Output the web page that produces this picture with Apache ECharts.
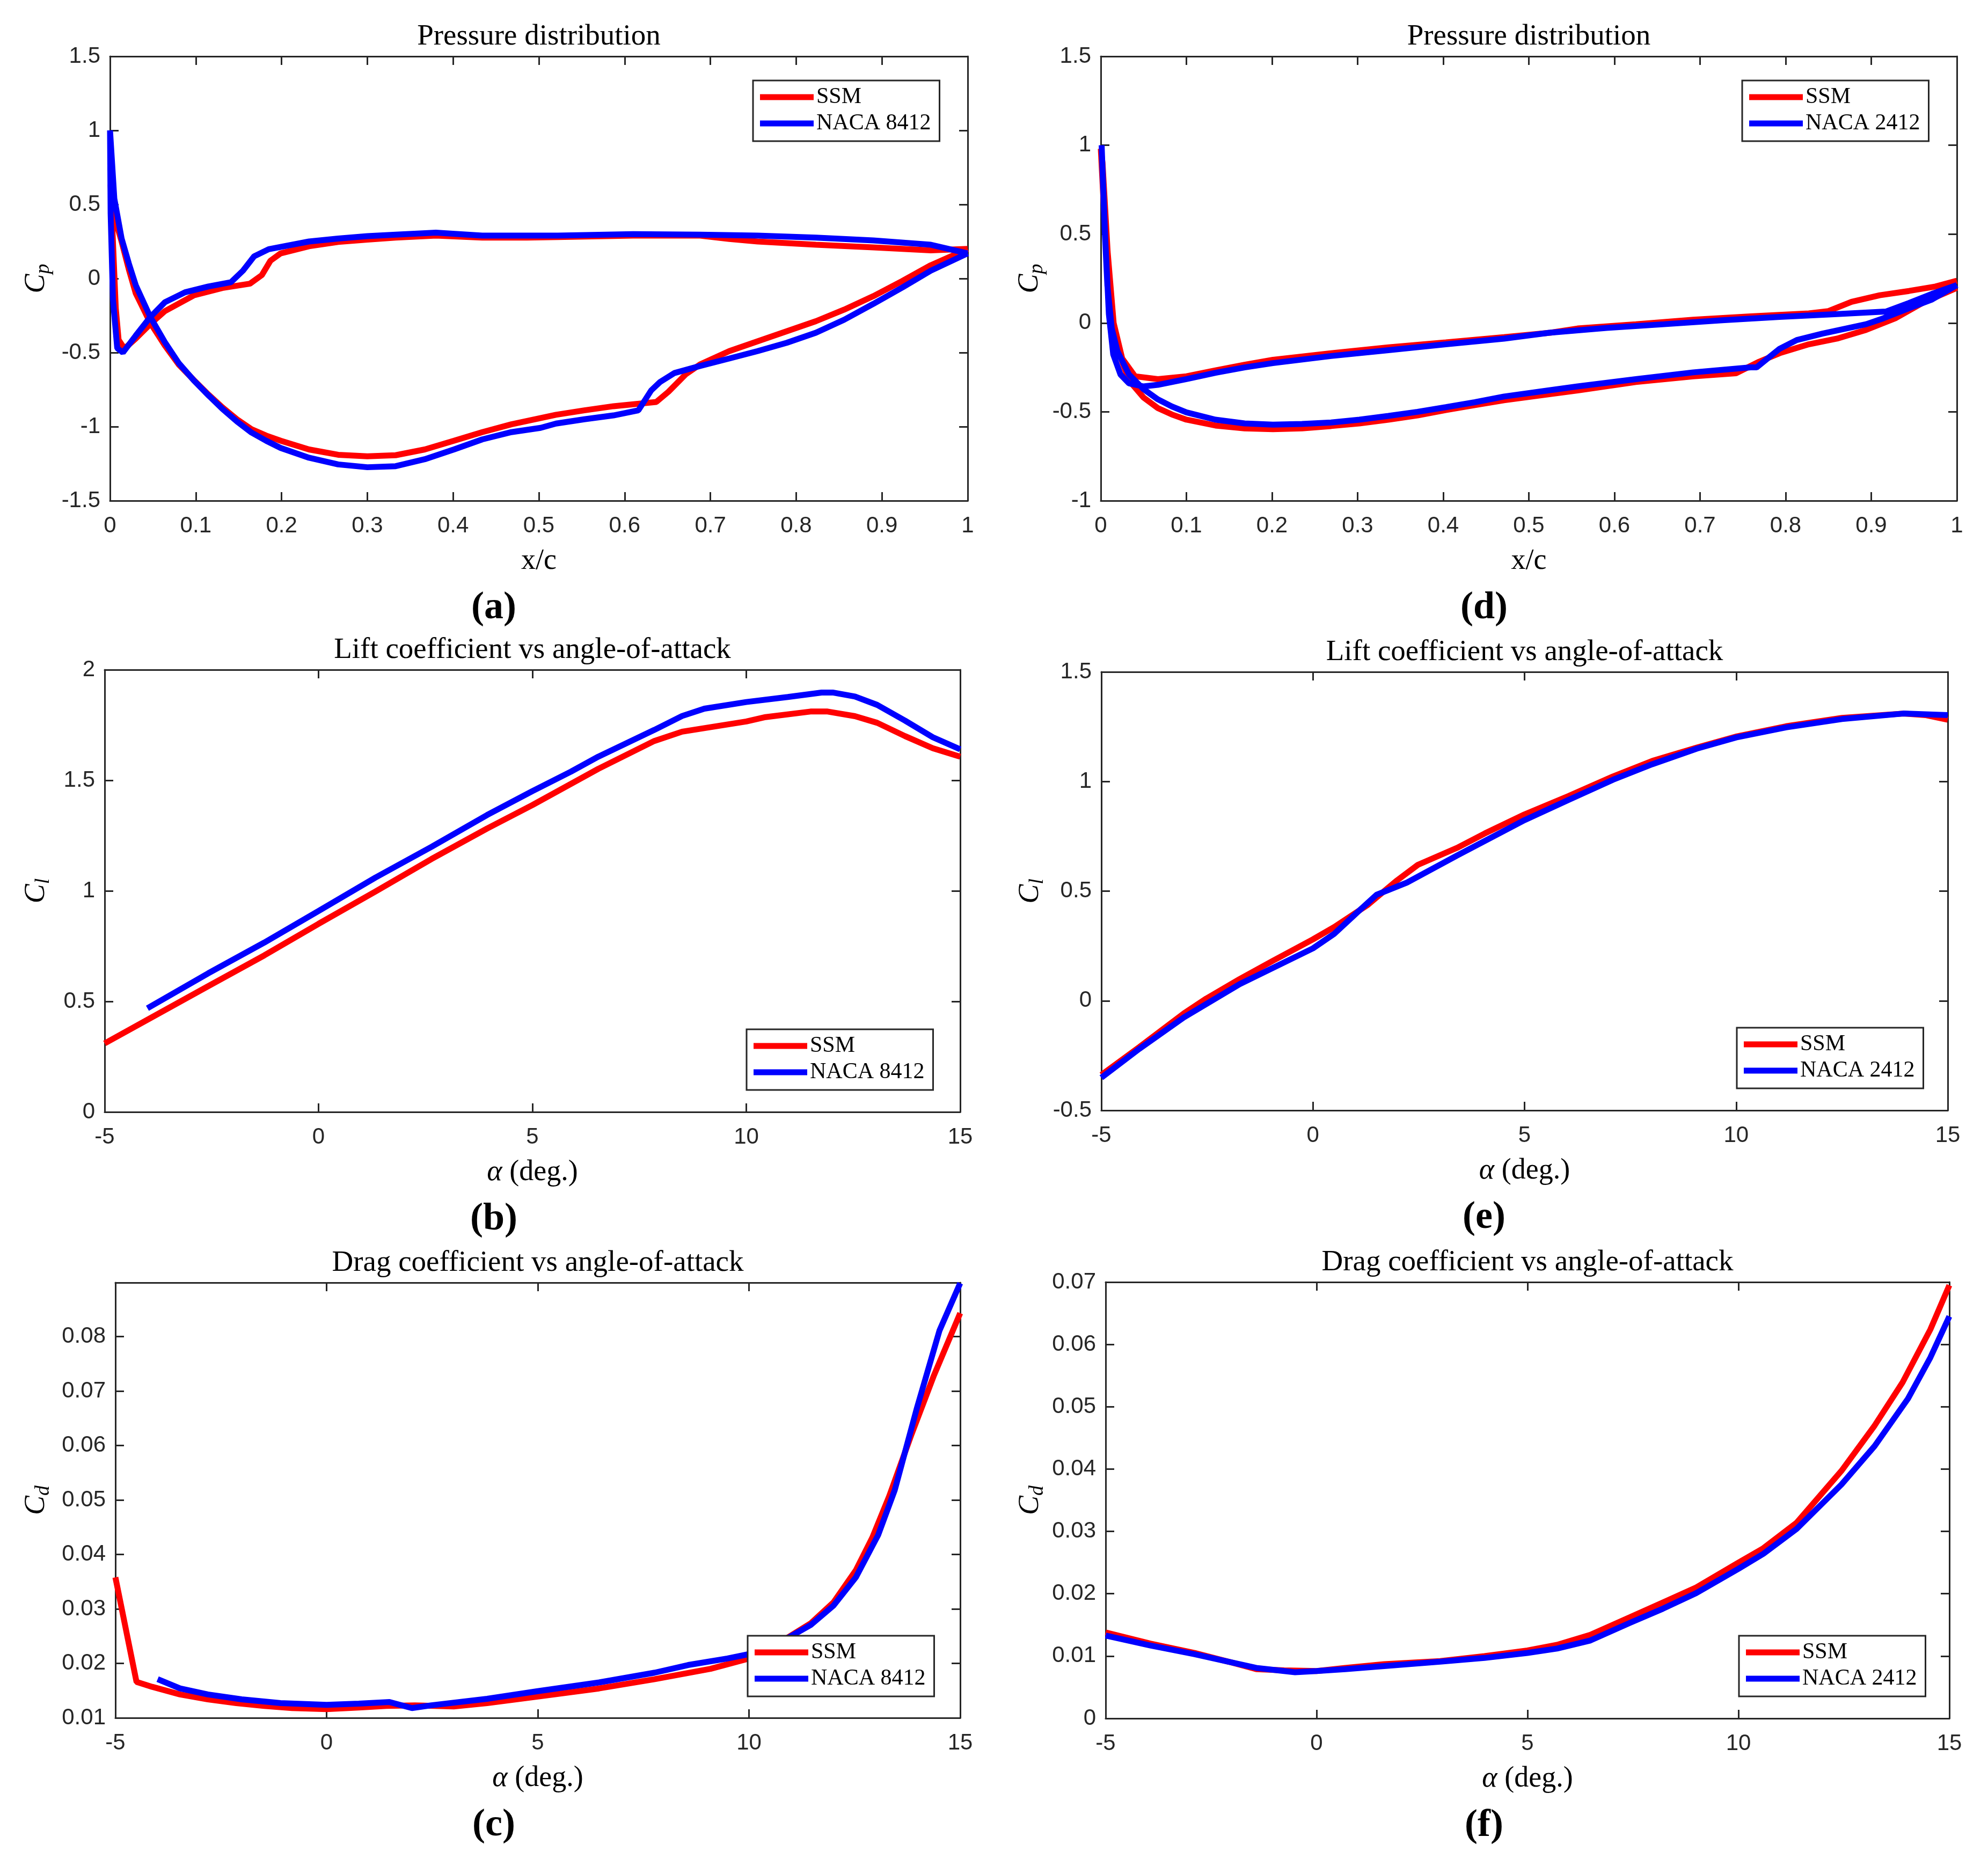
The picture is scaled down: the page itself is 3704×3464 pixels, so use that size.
<!DOCTYPE html>
<html>
<head>
<meta charset="utf-8">
<script src="https://cdn.jsdelivr.net/npm/echarts@6/dist/echarts.min.js"></script>
<style>
html,body{margin:0;padding:0;background:#fff;}
#chart{width:3704px;height:3464px;}
</style>
</head>
<body>
<div id="chart"></div>
<script>
// pressure distribution loops, [x/c, Cp], walked TE -> LE -> TE
var cpA_ssm = [[1.0,0.20],[0.957,0.19],[0.89,0.21],[0.823,0.228],[0.755,0.25],[0.722,0.267],[0.688,0.29],[0.61,0.29],[0.522,0.28],[0.486,0.276],[0.434,0.276],[0.38,0.29],[0.333,0.276],[0.3,0.263],[0.266,0.247],[0.232,0.218],[0.199,0.17],[0.187,0.12],[0.177,0.023],[0.163,-0.035],[0.131,-0.064],[0.098,-0.113],[0.064,-0.22],[0.047,-0.307],[0.030,-0.405],[0.0168,-0.473],[0.010,-0.414],[0.0067,-0.2],[0.0034,0.247],[0.0007,0.636],
  [0.005,0.42],[0.0135,0.25],[0.022,0.06],[0.030,-0.10],[0.047,-0.30],[0.064,-0.453],[0.08,-0.58],[0.098,-0.687],[0.115,-0.785],[0.131,-0.87],[0.148,-0.95],[0.165,-1.017],[0.182,-1.06],[0.199,-1.095],[0.232,-1.154],[0.266,-1.19],[0.3,-1.2],[0.333,-1.193],[0.367,-1.154],[0.401,-1.095],[0.434,-1.037],[0.468,-0.984],[0.52,-0.92],[0.553,-0.89],[0.587,-0.862],[0.637,-0.833],[0.651,-0.765],[0.671,-0.648],[0.688,-0.58],[0.722,-0.49],[0.755,-0.424],[0.789,-0.356],[0.823,-0.288],[0.856,-0.21],[0.89,-0.119],[0.924,-0.016],[0.957,0.09],[1.0,0.2]];
var cpA_naca = [[1.0,0.17],[0.957,0.228],[0.89,0.257],[0.823,0.276],[0.755,0.29],[0.688,0.296],[0.61,0.30],[0.522,0.29],[0.434,0.29],[0.38,0.31],[0.333,0.296],[0.3,0.286],[0.266,0.27],[0.232,0.25],[0.185,0.198],[0.168,0.15],[0.155,0.053],[0.141,-0.025],[0.1145,-0.054],[0.0875,-0.093],[0.064,-0.16],[0.047,-0.26],[0.030,-0.385],[0.015,-0.50],[0.0084,-0.47],[0.0034,-0.14],[0.0007,0.44],[0,1.0],
  [0.005,0.54],[0.0135,0.27],[0.022,0.1],[0.030,-0.045],[0.047,-0.26],[0.064,-0.43],[0.08,-0.57],[0.098,-0.69],[0.115,-0.79],[0.131,-0.88],[0.148,-0.965],[0.165,-1.04],[0.182,-1.095],[0.199,-1.144],[0.232,-1.21],[0.266,-1.255],[0.3,-1.274],[0.333,-1.267],[0.367,-1.22],[0.401,-1.154],[0.434,-1.086],[0.468,-1.037],[0.502,-1.008],[0.52,-0.979],[0.553,-0.95],[0.587,-0.924],[0.616,-0.89],[0.631,-0.755],[0.641,-0.70],[0.658,-0.638],[0.688,-0.59],[0.722,-0.54],[0.755,-0.49],[0.789,-0.434],[0.823,-0.366],[0.856,-0.278],[0.89,-0.171],[0.924,-0.06],[0.957,0.053],[1.0,0.17]];
var cpD_ssm = [[1.0,0.238],[0.975,0.205],[0.944,0.18],[0.91,0.156],[0.877,0.119],[0.85,0.067],[0.827,0.054],[0.759,0.037],[0.692,0.018],[0.625,-0.007],[0.557,-0.031],[0.525,-0.055],[0.471,-0.08],[0.403,-0.109],[0.336,-0.137],[0.269,-0.17],[0.201,-0.207],[0.168,-0.235],[0.134,-0.267],[0.1,-0.30],[0.0667,-0.316],[0.04,-0.30],[0.025,-0.2],[0.015,0.0],[0.008,0.4],[0.002,0.9],[0,0.98],
  [0.003,0.7],[0.008,0.3],[0.0128,0.0],[0.0195,-0.145],[0.033,-0.324],[0.05,-0.42],[0.0667,-0.479],[0.083,-0.515],[0.1,-0.544],[0.134,-0.577],[0.168,-0.593],[0.201,-0.598],[0.235,-0.593],[0.269,-0.58],[0.302,-0.565],[0.336,-0.544],[0.37,-0.52],[0.403,-0.49],[0.437,-0.462],[0.471,-0.435],[0.525,-0.40],[0.557,-0.38],[0.625,-0.332],[0.692,-0.30],[0.742,-0.283],[0.769,-0.218],[0.793,-0.17],[0.827,-0.12],[0.86,-0.088],[0.894,-0.039],[0.928,0.026],[0.961,0.116],[1.0,0.197]];
var cpD_naca = [[1.0,0.213],[0.971,0.164],[0.944,0.112],[0.917,0.064],[0.86,0.05],[0.793,0.034],[0.726,0.015],[0.658,-0.007],[0.591,-0.028],[0.524,-0.055],[0.471,-0.088],[0.403,-0.12],[0.336,-0.153],[0.269,-0.186],[0.201,-0.226],[0.168,-0.25],[0.134,-0.28],[0.1,-0.316],[0.0667,-0.348],[0.05,-0.357],[0.033,-0.34],[0.023,-0.29],[0.0145,-0.177],[0.0094,0.05],[0.0054,0.457],[0.002,0.865],[0.001,1.0],
  [0.0044,0.54],[0.0077,0.21],[0.0128,-0.03],[0.0195,-0.16],[0.033,-0.29],[0.05,-0.373],[0.0667,-0.43],[0.083,-0.47],[0.1,-0.503],[0.134,-0.544],[0.168,-0.565],[0.201,-0.572],[0.235,-0.568],[0.269,-0.56],[0.302,-0.544],[0.336,-0.523],[0.37,-0.5],[0.403,-0.474],[0.437,-0.446],[0.471,-0.414],[0.525,-0.378],[0.557,-0.357],[0.625,-0.316],[0.692,-0.278],[0.759,-0.25],[0.766,-0.25],[0.793,-0.145],[0.813,-0.096],[0.843,-0.06],[0.894,-0.007],[0.914,0.026],[0.944,0.083],[0.971,0.132],[1.0,0.213]];

// lift coefficient, [alpha, Cl]
var clB_ssm = [[-5,0.31],[-3.88,0.43],[-2.58,0.569],[-1.27,0.708],[0,0.851],[1.33,0.997],[2.64,1.144],[3.94,1.282],[5,1.388],[6.54,1.552],[7.85,1.678],[8.5,1.72],[9.15,1.74],[10,1.766],[10.45,1.786],[11.5,1.811],[11.9,1.811],[12.54,1.79],[13.06,1.76],[13.71,1.70],[14.36,1.645],[15,1.607]];
var clB_naca = [[-4,0.469],[-2.58,0.627],[-1.27,0.766],[0,0.909],[1.33,1.06],[2.64,1.199],[3.94,1.343],[5,1.451],[5.9,1.539],[6.54,1.607],[7.85,1.728],[8.5,1.791],[9.02,1.824],[10,1.854],[10.97,1.877],[11.76,1.897],[12.02,1.897],[12.54,1.879],[13.06,1.841],[13.71,1.77],[14.36,1.695],[15,1.64]];
var clE_ssm = [[-5,-0.338],[-4.1,-0.211],[-3.58,-0.135],[-3.05,-0.058],[-2.52,0.01],[-1.73,0.099],[-0.94,0.183],[0,0.28],[0.5,0.336],[1.3,0.438],[1.96,0.545],[2.48,0.62],[3.4,0.697],[4.06,0.763],[5,0.85],[6.04,0.934],[7.09,1.023],[8.02,1.094],[9.07,1.155],[10.02,1.206],[11.18,1.252],[12.5,1.29],[13.95,1.31],[14.47,1.303],[15,1.282]];
var clE_naca = [[-5,-0.351],[-4.1,-0.219],[-3.05,-0.076],[-1.73,0.076],[0,0.239],[0.5,0.305],[1.03,0.4],[1.5,0.483],[2.22,0.539],[3.4,0.662],[5,0.824],[6.04,0.916],[7.09,1.008],[8.02,1.079],[9.07,1.15],[10,1.201],[11.18,1.247],[12.5,1.285],[13.95,1.31],[15,1.303]];

// drag coefficient, [alpha, Cd]
var cdC_ssm = [[-5,0.0358],[-4.5,0.0166],[-4.13,0.0157],[-3.47,0.0143],[-2.81,0.0134],[-2.14,0.0127],[-1.48,0.0122],[-0.82,0.0118],[0,0.0116],[0.76,0.0119],[1.42,0.0122],[2.09,0.0123],[3.01,0.0121],[3.8,0.0127],[5,0.0139],[6.45,0.0154],[7.77,0.0171],[9.09,0.019],[10,0.0209],[10.68,0.0236],[11.47,0.0274],[12,0.0312],[12.53,0.0371],[12.92,0.0431],[13.32,0.0507],[13.85,0.0621],[14.38,0.0729],[15,0.0843]];
var cdC_naca = [[-4,0.0171],[-3.47,0.0154],[-2.81,0.0143],[-2.01,0.0134],[-1.09,0.0127],[0,0.0124],[0.76,0.0126],[1.49,0.0129],[2.02,0.0118],[2.48,0.0123],[3.8,0.0135],[5,0.0149],[6.45,0.0165],[7.77,0.0183],[8.56,0.0197],[9.49,0.0209],[10,0.0217],[10.95,0.0248],[11.47,0.0271],[12,0.0306],[12.53,0.0358],[13.06,0.0436],[13.45,0.0518],[13.98,0.067],[14.51,0.0811],[15,0.0898]];
var cdF_ssm = [[-5,0.0138],[-3.94,0.012],[-2.89,0.0105],[-2.09,0.0091],[-1.43,0.0079],[-0.77,0.0077],[0,0.0076],[0.68,0.0081],[1.6,0.0087],[2.93,0.0092],[3.98,0.01],[5,0.0109],[5.7,0.0118],[6.49,0.0134],[7.42,0.0162],[8.21,0.0186],[9,0.021],[10,0.025],[10.59,0.0273],[11.38,0.0314],[12.44,0.0397],[13.23,0.047],[13.89,0.0539],[14.55,0.0624],[15,0.0695]];
var cdF_naca = [[-5,0.0133],[-3.94,0.0117],[-2.89,0.0103],[-2.09,0.0091],[-1.43,0.0081],[-0.51,0.0074],[0,0.0076],[0.68,0.0079],[1.6,0.0084],[2.93,0.0091],[3.98,0.0097],[5,0.0105],[5.7,0.0112],[6.49,0.0125],[7.42,0.0153],[8.21,0.0176],[9,0.0201],[10,0.024],[10.59,0.0264],[11.38,0.0304],[12.44,0.0375],[13.23,0.0437],[14.02,0.0513],[14.55,0.0579],[15,0.0645]];

var panelTitles = ['Pressure distribution','Lift coefficient vs angle-of-attack','Drag coefficient vs angle-of-attack'];
var panelTags = ['(a)','(b)','(c)','(d)','(e)','(f)'];
var legendNames = [['SSM','NACA 8412'],['SSM','NACA 2412']];

var AX = '#262626';
var SERIF = '"Liberation Serif", "Times New Roman", serif';
var SANS = '"Liberation Sans", Arial, sans-serif';

// panel boxes: left, top, width, height, axis ranges, y label sub, gap, legend pos
var panels = [
  {l:205, t:105, w:1598, h:828, xmin:0, xmax:1, xint:0.1, ymin:-1.5, ymax:1.5, yint:0.5, xname:'x/c', sub:'p', gap:105, leg:[1403,150], names:0, s1:cpA_ssm, s2:cpA_naca},
  {l:195, t:1248, w:1594, h:824, xmin:-5, xmax:15, xint:5, ymin:0, ymax:2, yint:0.5, xname:'alpha', sub:'l', gap:95, leg:[1391,1918], names:0, s1:clB_ssm, s2:clB_naca},
  {l:215, t:2390, w:1574, h:811, xmin:-5, xmax:15, xint:5, ymin:0.01, ymax:0.0899, yint:0.01, xname:'alpha', sub:'d', gap:115, leg:[1393,3048], names:0, s1:cdC_ssm, s2:cdC_naca, hideMax:true},
  {l:2051, t:105, w:1595, h:828, xmin:0, xmax:1, xint:0.1, ymin:-1, ymax:1.5, yint:0.5, xname:'x/c', sub:'p', gap:100, leg:[3246,150], names:1, s1:cpD_ssm, s2:cpD_naca},
  {l:2052, t:1252, w:1577, h:817, xmin:-5, xmax:15, xint:5, ymin:-0.5, ymax:1.5, yint:0.5, xname:'alpha', sub:'l', gap:100, leg:[3236,1915], names:1, s1:clE_ssm, s2:clE_naca},
  {l:2060, t:2389, w:1572, h:813, xmin:-5, xmax:15, xint:5, ymin:0, ymax:0.07, yint:0.01, xname:'alpha', sub:'d', gap:108, leg:[3240,3048], names:1, s1:cdF_ssm, s2:cdF_naca}
];

var grids=[], xAxes=[], yAxes=[], series=[], legends=[], graphics=[];

for(var i=0;i<panels.length;i++){
  var p=panels[i];
  grids.push({left:p.l, top:p.t, width:p.w, height:p.h, containLabel:false});
  var tick={show:true, inside:true, length:16, lineStyle:{color:AX, width:3}};
  var line={show:true, onZero:false, lineStyle:{color:AX, width:3}};
  var xname = p.xname=='x/c' ? 'x/c' : '{a|\u03b1} (deg.)';
  xAxes.push({
    type:'value', gridIndex:i, position:'bottom', min:p.xmin, max:p.xmax, interval:p.xint,
    axisLine:line, axisTick:tick, splitLine:{show:false},
    axisLabel:{show:true, margin:26, color:AX, fontFamily:SANS, fontSize:42},
    name:xname, nameLocation:'middle', nameGap:86,
    nameTextStyle:{fontFamily:SERIF, fontSize:54, color:'#000',
      rich:{a:{fontFamily:SERIF, fontStyle:'italic', fontSize:54, color:'#000'}}}
  });
  xAxes.push({
    type:'value', gridIndex:i, position:'top', min:p.xmin, max:p.xmax, interval:p.xint,
    axisLine:line, axisTick:tick, splitLine:{show:false}, axisLabel:{show:false}
  });
  yAxes.push({
    type:'value', gridIndex:i, position:'left', min:p.ymin, max:p.ymax, interval:p.yint,
    axisLine:line, axisTick:tick, splitLine:{show:false},
    axisLabel:{show:true, margin:18, color:AX, fontFamily:SANS, fontSize:42, showMaxLabel: p.hideMax ? false : null},
    name:'{c|C}{s|'+p.sub+'}', nameLocation:'middle', nameGap:p.gap,
    nameTextStyle:{rich:{
      c:{fontFamily:SERIF, fontStyle:'italic', fontSize:54, color:'#000'},
      s:{fontFamily:SERIF, fontStyle:'italic', fontSize:38, color:'#000', padding:[26,0,0,0]}
    }}
  });
  yAxes.push({
    type:'value', gridIndex:i, position:'right', min:p.ymin, max:p.ymax, interval:p.yint,
    axisLine:line, axisTick:tick, splitLine:{show:false}, axisLabel:{show:false}
  });
  var nm=legendNames[p.names];
  series.push({name:nm[0], type:'line', xAxisIndex:2*i, yAxisIndex:2*i, data:p.s1,
    showSymbol:false, symbol:'none', clip:false, lineStyle:{color:'#ff0000', width:11}, itemStyle:{color:'#ff0000'}, z:2});
  series.push({name:nm[1], type:'line', xAxisIndex:2*i, yAxisIndex:2*i, data:p.s2,
    showSymbol:false, symbol:'none', clip:false, lineStyle:{color:'#0000ff', width:11}, itemStyle:{color:'#0000ff'}, z:3});
  legends.push({
    data:nm, orient:'vertical', left:p.leg[0], top:p.leg[1], selectedMode:false,
    icon:'rect', itemWidth:100, itemHeight:11, itemGap:7, itemTextGap:11,
    padding:[10,16,12,13], borderColor:AX, borderWidth:3, backgroundColor:'#fff',
    textStyle:{fontFamily:SERIF, fontSize:42, color:'#000'}
  });
  graphics.push({type:'text', x:p.l+p.w/2, y:p.t-36, style:{text:panelTitles[i%3],
    font:'normal 55px '+SERIF, fill:'#000', textAlign:'center', textVerticalAlign:'middle', align:'center', verticalAlign:'middle'}});
  graphics.push({type:'text', x:(i<3?920:2765), y:p.t+p.h+200, style:{text:panelTags[i],
    font:'bold 72px '+SERIF, fill:'#000', textAlign:'center', textVerticalAlign:'middle', align:'center', verticalAlign:'middle'}});
}

var mychart = echarts.init(document.getElementById('chart'), null, {renderer:'canvas', devicePixelRatio:1});
var option = {
  backgroundColor:'#fff',
  animation:false,
  grid:grids,
  xAxis:xAxes,
  yAxis:yAxes,
  legend:legends,
  series:series,
  graphic:graphics
};
mychart.setOption(option);
</script>
</body>
</html>
